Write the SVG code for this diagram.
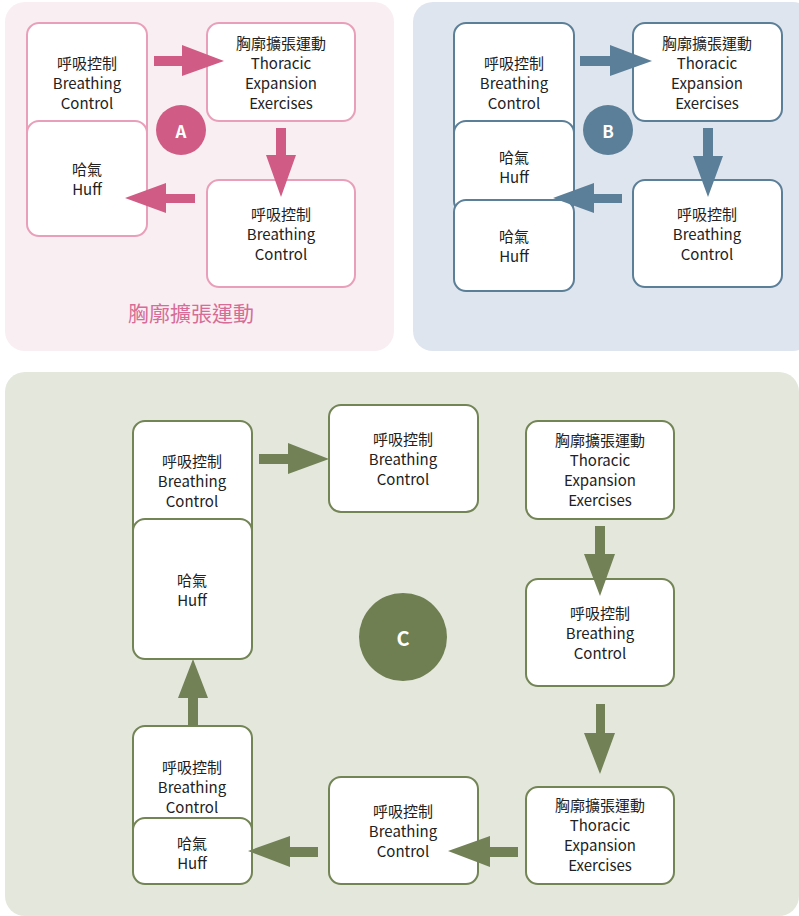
<svg xmlns="http://www.w3.org/2000/svg" width="799" height="916" viewBox="0 0 799 916">
<style>
text{font-family:"Noto Sans CJK TC","Noto Sans CJK SC",sans-serif;font-size:15px;fill:#222;text-anchor:middle;dominant-baseline:central}
.box{fill:#fff;stroke-width:2}
.a{stroke:#e99fb9}.b{stroke:#5c7f98}.c{stroke:#738455}
.pa{fill:#d05c85}.pb{fill:#5b7f99}.pc{fill:#728156}
.lbl{font-size:17px;font-weight:bold;fill:#fff}
</style>
<rect x="5" y="2" width="389" height="349" rx="20" fill="#f9eef2"/>
<rect x="413" y="2" width="400" height="349" rx="20" fill="#dfe5ee"/>
<rect x="5" y="372" width="794" height="544" rx="20" fill="#e3e7dc"/>

<g id="a-breath1"><rect class="box a" x="27" y="23" width="120" height="120" rx="12"/><text x="87" y="62">呼吸控制</text><text x="87" y="82">Breathing</text><text x="87" y="102">Control</text></g>
<g id="a-huff"><rect class="box a" x="27" y="121" width="120" height="115" rx="12"/><text x="87" y="168">哈氣</text><text x="87" y="188">Huff</text></g>
<g id="a-thoracic"><rect class="box a" x="207" y="23" width="148" height="98" rx="12"/><text x="281" y="42">胸廓擴張運動</text><text x="281" y="62">Thoracic</text><text x="281" y="82">Expansion</text><text x="281" y="102">Exercises</text></g>
<g id="a-breath2"><rect class="box a" x="207" y="180" width="148" height="107" rx="12"/><text x="281" y="213">呼吸控制</text><text x="281" y="233">Breathing</text><text x="281" y="253">Control</text></g>
<g id="a-badge"><circle cx="181" cy="130" r="25" fill="#d05c85"/><text class="lbl" x="181" y="130">A</text></g>
<text x="191" y="312" style="font-size:21px;fill:#d66c97">胸廓擴張運動</text>

<g id="b-breath1"><rect class="box b" x="454" y="23" width="120" height="120" rx="12"/><text x="514" y="62">呼吸控制</text><text x="514" y="82">Breathing</text><text x="514" y="102">Control</text></g>
<g id="b-huff1"><rect class="box b" x="454" y="121" width="120" height="92" rx="12"/><text x="514" y="156">哈氣</text><text x="514" y="176">Huff</text></g>
<g id="b-huff2"><rect class="box b" x="454" y="200" width="120" height="91" rx="12"/><text x="514" y="235">哈氣</text><text x="514" y="255">Huff</text></g>
<g id="b-thoracic"><rect class="box b" x="633" y="23" width="149" height="98" rx="12"/><text x="707" y="42">胸廓擴張運動</text><text x="707" y="62">Thoracic</text><text x="707" y="82">Expansion</text><text x="707" y="102">Exercises</text></g>
<g id="b-breath2"><rect class="box b" x="633" y="180" width="149" height="107" rx="12"/><text x="707" y="213">呼吸控制</text><text x="707" y="233">Breathing</text><text x="707" y="253">Control</text></g>
<g id="b-badge"><circle cx="608" cy="130" r="25" fill="#5b7f99"/><text class="lbl" x="608" y="130">B</text></g>

<g id="c-breath1"><rect class="box c" x="133" y="421" width="119" height="120" rx="12"/><text x="192" y="460">呼吸控制</text><text x="192" y="480">Breathing</text><text x="192" y="500">Control</text></g>
<g id="c-huff1"><rect class="box c" x="133" y="519" width="119" height="140" rx="12"/><text x="192" y="579">哈氣</text><text x="192" y="599">Huff</text></g>
<g id="c-breath2"><rect class="box c" x="329" y="405" width="149" height="107" rx="12"/><text x="403" y="438">呼吸控制</text><text x="403" y="458">Breathing</text><text x="403" y="478">Control</text></g>
<g id="c-thoracic1"><rect class="box c" x="526" y="421" width="148" height="98" rx="12"/><text x="600" y="439">胸廓擴張運動</text><text x="600" y="459">Thoracic</text><text x="600" y="479">Expansion</text><text x="600" y="499">Exercises</text></g>
<g id="c-breath3"><rect class="box c" x="526" y="579" width="148" height="107" rx="12"/><text x="600" y="612">呼吸控制</text><text x="600" y="632">Breathing</text><text x="600" y="652">Control</text></g>
<g id="c-thoracic2"><rect class="box c" x="526" y="787" width="148" height="97" rx="12"/><text x="600" y="804">胸廓擴張運動</text><text x="600" y="824">Thoracic</text><text x="600" y="844">Expansion</text><text x="600" y="864">Exercises</text></g>
<g id="c-breath4"><rect class="box c" x="329" y="777" width="149" height="107" rx="12"/><text x="403" y="810">呼吸控制</text><text x="403" y="830">Breathing</text><text x="403" y="850">Control</text></g>
<g id="c-breath5"><rect class="box c" x="133" y="726" width="119" height="122" rx="12"/><text x="192" y="766">呼吸控制</text><text x="192" y="786">Breathing</text><text x="192" y="806">Control</text></g>
<g id="c-huff2"><rect class="box c" x="133" y="818" width="119" height="66" rx="12"/><text x="192" y="842">哈氣</text><text x="192" y="862">Huff</text></g>
<g id="c-badge"><circle cx="403" cy="637" r="44" fill="#6f7f51"/><text class="lbl" x="403" y="637" style="font-size:20px">C</text></g>

<g id="connectors">
<polygon class="pa" points="154,56 182,56 182,45 224,61 182,76 182,66 154,66"/>
<polygon class="pa" points="276,128 286,128 286,155 296,155 281,197 266,155 276,155"/>
<polygon class="pa" points="195,194 166,194 166,183 125,198 166,213 166,203 195,203"/>
<polygon class="pb" points="580,56 610,56 610,45 652,61 610,76 610,66 580,66"/>
<polygon class="pb" points="703,128 713,128 713,156 723,156 708,197 693,156 703,156"/>
<polygon class="pb" points="622,194 594,194 594,183 553,198 594,213 594,203 622,203"/>
<polygon class="pc" points="259,454 288,454 288,443 329,459 288,474 288,464 259,464"/>
<polygon class="pc" points="595,526 605,526 605,554 615,554 600,596 584,554 595,554"/>
<polygon class="pc" points="596,704 605,704 605,733 615,733 600,774 584,733 596,733"/>
<polygon class="pc" points="518,847 490,847 490,836 448,851 490,867 490,857 518,857"/>
<polygon class="pc" points="318,847 290,847 290,836 248,851 290,867 290,857 318,857"/>
<polygon class="pc" points="188,726 188,698 178,698 193,659 208,698 198,698 198,726"/>
</g>
</svg>
